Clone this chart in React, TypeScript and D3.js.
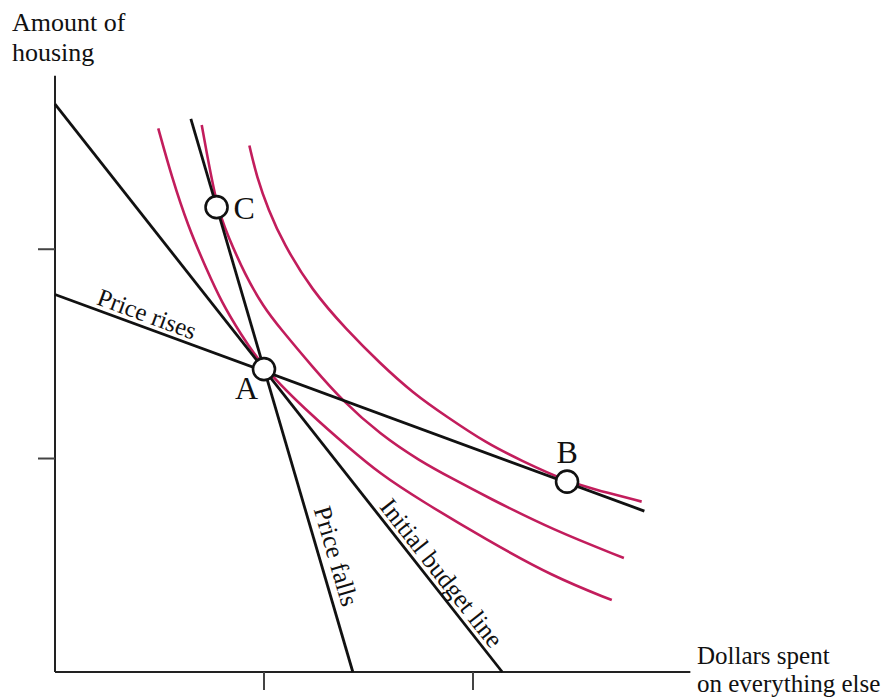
import React from "react";
import * as d3 from "d3";

// ---- data (chart units) ----
const xTicks = [100, 200];
const yTicks = [101.5, 201];
const axisMax = { x: 304, y: 283.5 };

const initialBudget: [number, number][] = [[0, 270], [214, 0]];
const priceRises: [number, number][] = [[0, 179.5], [282, 76.5]];
const priceFalls: [number, number][] = [[65, 263], [142.5, 0]];

const pointA: [number, number] = [100, 144];
const pointB: [number, number] = [245, 90.5];
const pointC: [number, number] = [77.3, 221];

const curveA: [number, number][] = [
  [49.4, 258.5], [56.0, 234.9], [63.6, 212.1], [72.6, 191.2], [79.9, 175.5],
  [88.5, 161.2], [100, 144], [123.6, 121.3], [139.6, 107.5], [155.5, 94.2],
  [174.6, 81.8], [206.6, 62.8], [238.4, 45.3], [266.4, 34.2],
];
const curveC: [number, number][] = [
  [70.2, 260.1], [77.3, 221], [82.8, 207.3], [90.9, 188.8], [99.7, 173.7],
  [107.7, 163.4], [123.6, 144.6], [137.2, 129.3], [155.5, 113], [174.6, 100.3],
  [190.4, 91.8], [206.7, 83.2], [238.3, 67.5], [272.2, 54.2],
];
const curveB: [number, number][] = [
  [93.0, 250.3], [96.5, 235.5], [102.1, 219.7], [109.2, 203.9], [122.8, 181.6],
  [139.6, 162.6], [155.5, 146.8], [171.4, 132.5], [187.4, 121.4], [206.6, 108.7],
  [222.5, 100.8], [245, 90.5], [260.8, 86.1], [280.7, 81.0],
];

const lineNames = ["Initial budget line", "Price rises", "Price falls"];
const pointNames = ["A", "B", "C"];
const yTitle = ["Amount of", "housing"];
const xTitle = ["Dollars spent", "on everything else"];

// ---- layout ----
const W = 894;
const H = 700;
const RED = "#c21d5c";
const FONT = "'Liberation Serif', 'Times New Roman', serif";

export default function App() {
  const x = d3.scaleLinear().domain([0, 300]).range([55, 682]);
  const y = d3.scaleLinear().domain([0, 300]).range([672, 41]);

  const curveGen = d3
    .line<[number, number]>()
    .x((d) => x(d[0]))
    .y((d) => y(d[1]))
    .curve(d3.curveBasis);
  const segGen = d3
    .line<[number, number]>()
    .x((d) => x(d[0]))
    .y((d) => y(d[1]));

  const lines = [initialBudget, priceRises, priceFalls];
  const labelPlacement = [
    { t: 0.715, off: 5, size: 25.5 },
    { t: 0.066, off: 5, size: 25 },
    { t: 0.71, off: 8, size: 25.5 },
  ];

  const lineLabel = (
    seg: [number, number][],
    t: number,
    off: number,
    size: number,
    text: string,
    key: number
  ) => {
    const x0 = x(seg[0][0]);
    const y0 = y(seg[0][1]);
    const x1 = x(seg[1][0]);
    const y1 = y(seg[1][1]);
    const ang = Math.atan2(y1 - y0, x1 - x0);
    const deg = (ang * 180) / Math.PI;
    const ux = Math.sin(ang);
    const uy = -Math.cos(ang);
    const px = x0 + (x1 - x0) * t + ux * off;
    const py = y0 + (y1 - y0) * t + uy * off;
    return (
      <text
        key={key}
        transform={`translate(${px},${py}) rotate(${deg})`}
        fontSize={size}
        fontFamily={FONT}
        fill="#111"
      >
        {text}
      </text>
    );
  };

  const points = [pointA, pointB, pointC];
  const pointLabelOffsets = [
    { dx: -6, dy: 30, anchor: "end" },
    { dx: 0, dy: -19, anchor: "middle" },
    { dx: 17, dy: 12, anchor: "start" },
  ];

  return (
    <svg
      width={W}
      height={H}
      style={{ position: "absolute", left: 0, top: 0, background: "#fff" }}
    >
      {/* axes */}
      <line x1={x(0)} y1={y(axisMax.y)} x2={x(0)} y2={y(0)} stroke="#222" strokeWidth={2} />
      <line x1={x(0)} y1={y(0)} x2={x(axisMax.x)} y2={y(0)} stroke="#222" strokeWidth={2} />
      {yTicks.map((v, i) => (
        <line key={"yt" + i} x1={x(0) - 17} x2={x(0)} y1={y(v)} y2={y(v)} stroke="#444" strokeWidth={2} />
      ))}
      {xTicks.map((v, i) => (
        <line key={"xt" + i} x1={x(v)} x2={x(v)} y1={y(0)} y2={y(0) + 18} stroke="#444" strokeWidth={2} />
      ))}

      {/* axis titles */}
      <text fontFamily={FONT} fontSize={26} fill="#111">
        {yTitle.map((s, i) => (
          <tspan key={i} x={12} y={31 + i * 30}>
            {s}
          </tspan>
        ))}
      </text>
      <text fontFamily={FONT} fontSize={25} fill="#111">
        {xTitle.map((s, i) => (
          <tspan key={i} x={697} y={664 + i * 28}>
            {s}
          </tspan>
        ))}
      </text>

      {/* indifference curves */}
      {[curveA, curveC, curveB].map((c, i) => (
        <path key={"c" + i} d={curveGen(c) || ""} fill="none" stroke={RED} strokeWidth={2.6} />
      ))}

      {/* budget lines */}
      {lines.map((l, i) => (
        <path key={"l" + i} d={segGen(l) || ""} fill="none" stroke="#111" strokeWidth={2.8} />
      ))}

      {/* line labels */}
      {lines.map((l, i) =>
        lineLabel(l, labelPlacement[i].t, labelPlacement[i].off, labelPlacement[i].size, lineNames[i], i)
      )}

      {/* points */}
      {points.map((p, i) => (
        <g key={"p" + i}>
          <circle cx={x(p[0])} cy={y(p[1])} r={11} fill="#fff" stroke="#111" strokeWidth={2.6} />
          <text
            x={x(p[0]) + pointLabelOffsets[i].dx}
            y={y(p[1]) + pointLabelOffsets[i].dy}
            textAnchor={pointLabelOffsets[i].anchor as any}
            fontFamily={FONT}
            fontSize={32}
            fill="#111"
          >
            {pointNames[i]}
          </text>
        </g>
      ))}
    </svg>
  );
}
